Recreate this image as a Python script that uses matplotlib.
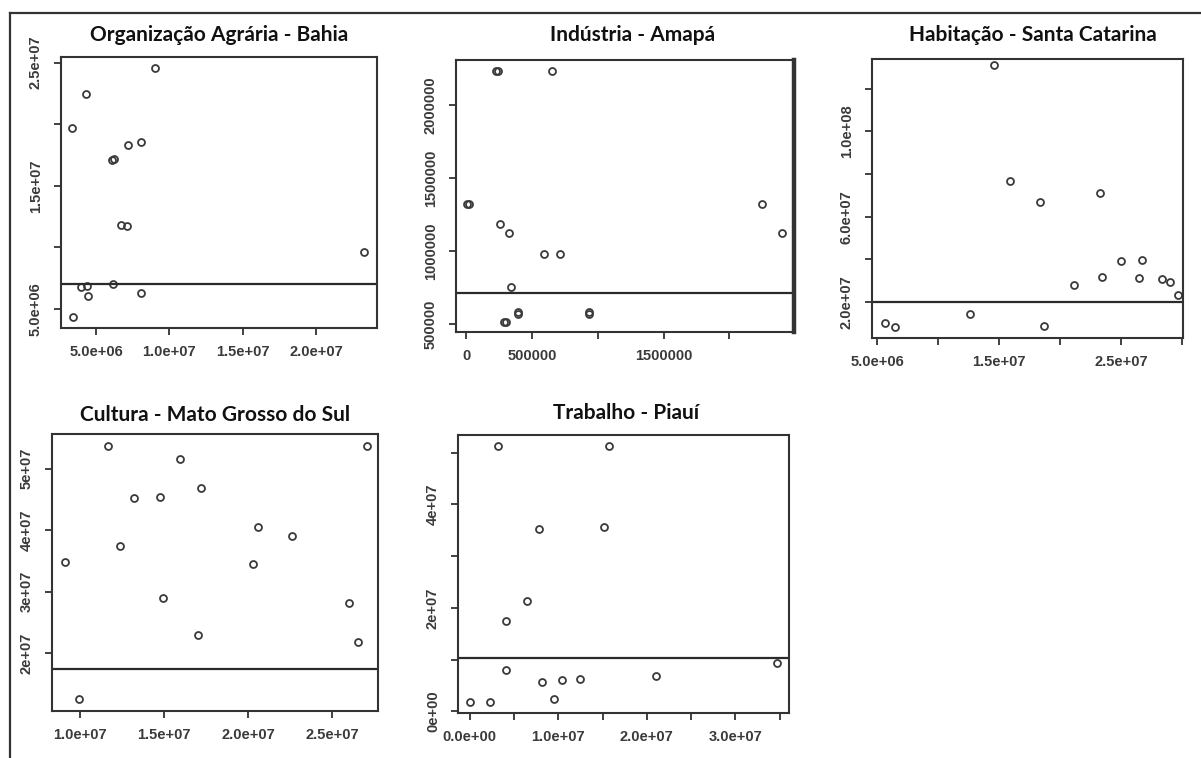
import matplotlib
matplotlib.use("Agg")
import matplotlib.pyplot as plt
from matplotlib.lines import Line2D

W, H = 1201, 758
DPI = 100

# ---- Data -------------------------------------------------------------
bahia_x = [3.34e6, 4.32e6, 9.05e6, 6.10e6, 6.25e6, 7.20e6, 8.05e6, 6.68e6, 7.09e6,
           2.327e7, 3.96e6, 4.41e6, 4.48e6, 6.14e6, 8.05e6, 3.41e6]
bahia_y = [1.969e7, 2.245e7, 2.46e7, 1.71e7, 1.715e7, 1.833e7, 1.855e7, 1.183e7, 1.175e7,
           9.6e6, 6.76e6, 6.87e6, 6.06e6, 7.0e6, 6.33e6, 4.37e6]
bahia_line = 7.0e6

amapa_x = [2.25e5, 2.40e5, 6.54e5, 5e3, 2.0e4, 2.58e5, 3.26e5, 5.91e5, 7.17e5,
           2.25e6, 2.40e6, 3.41e5, 3.96e5, 3.96e5, 9.34e5, 9.34e5, 2.85e5, 3.05e5]
amapa_y = [2.235e6, 2.235e6, 2.235e6, 1.32e6, 1.32e6, 1.188e6, 1.123e6, 9.77e5, 9.77e5,
           1.32e6, 1.123e6, 7.51e5, 5.65e5, 5.82e5, 5.65e5, 5.82e5, 5.16e5, 5.16e5]
amapa_line = 7.14e5

sc_x = [1.461e7, 1.589e7, 1.840e7, 2.333e7, 2.50e7, 2.67e7, 2.346e7, 2.645e7, 2.112e7,
        2.836e7, 2.902e7, 2.97e7, 5.68e6, 6.5e6, 1.262e7, 1.869e7]
sc_y = [1.309e8, 7.69e7, 6.70e7, 7.12e7, 3.92e7, 3.97e7, 3.19e7, 3.14e7, 2.81e7,
        3.08e7, 2.92e7, 2.31e7, 1.02e7, 8.3e6, 1.44e7, 8.6e6]
sc_line = 2.0e7

ms_x = [9.07e6, 1.164e7, 1.317e7, 1.238e7, 1.477e7, 1.596e7, 1.718e7, 1.491e7, 1.703e7,
        2.056e7, 2.03e7, 2.261e7, 2.597e7, 2.652e7, 2.707e7, 9.9e6]
ms_y = [3.48e7, 5.375e7, 4.53e7, 3.74e7, 4.54e7, 5.16e7, 4.68e7, 2.90e7, 2.29e7,
        4.06e7, 3.45e7, 3.90e7, 2.81e7, 2.18e7, 5.37e7, 1.25e7]
ms_line = 1.74e7

pi_x = [3.19e6, 1.572e7, 7.82e6, 1.515e7, 6.51e6, 4.06e6, 4.14e6, 8.2e6, 1.043e7,
        1.242e7, 9.48e6, 0.0, 2.26e6, 2.10e7, 3.47e7]
pi_y = [5.12e7, 5.12e7, 3.52e7, 3.57e7, 2.13e7, 1.75e7, 8.1e6, 5.7e6, 6.0e6,
        6.3e6, 2.5e6, 1.8e6, 1.8e6, 6.9e6, 9.4e6]
pi_line = 1.03e7

titles = ["Organização Agrária - Bahia", "Indústria - Amapá", "Habitação - Santa Catarina",
          "Cultura - Mato Grosso do Sul", "Trabalho - Piauí"]

bahia_xticks = [5e6, 1e7, 1.5e7, 2e7]
bahia_xlabels = ["5.0e+06", "1.0e+07", "1.5e+07", "2.0e+07"]
bahia_yticks = [5e6, 1e7, 1.5e7, 2e7, 2.5e7]
bahia_ylabels = ["5.0e+06", "", "1.5e+07", "", "2.5e+07"]

amapa_xticks = [0, 5e5, 1e6, 1.5e6, 2e6]
amapa_xlabels = ["0", "500000", "", "1500000", ""]
amapa_yticks = [5e5, 1e6, 1.5e6, 2e6]
amapa_ylabels = ["500000", "1000000", "1500000", "2000000"]

sc_xticks = [5e6, 1e7, 1.5e7, 2e7, 2.5e7, 3e7]
sc_xlabels = ["5.0e+06", "", "1.5e+07", "", "2.5e+07", ""]
sc_yticks = [2e7, 4e7, 6e7, 8e7, 1e8, 1.2e8]
sc_ylabels = ["2.0e+07", "", "6.0e+07", "", "1.0e+08", ""]

ms_xticks = [1e7, 1.5e7, 2e7, 2.5e7]
ms_xlabels = ["1.0e+07", "1.5e+07", "2.0e+07", "2.5e+07"]
ms_yticks = [2e7, 3e7, 4e7, 5e7]
ms_ylabels = ["2e+07", "3e+07", "4e+07", "5e+07"]

pi_xticks = [0, 5e6, 1e7, 1.5e7, 2e7, 2.5e7, 3e7, 3.5e7]
pi_xlabels = ["0.0e+00", "", "1.0e+07", "", "2.0e+07", "", "3.0e+07", ""]
pi_yticks = [0, 1e7, 2e7, 3e7, 4e7, 5e7]
pi_ylabels = ["0e+00", "", "2e+07", "", "4e+07", ""]

panels = [
    dict(x=bahia_x, y=bahia_y, line=bahia_line, xt=bahia_xticks, xl=bahia_xlabels,
         yt=bahia_yticks, yl=bahia_ylabels, xlim=(2.61e6, 2.416e7), ylim=(3.46e6, 2.546e7),
         box=(61, 377, 57, 328), title_xy=(219, 35)),
    dict(x=amapa_x, y=amapa_y, line=amapa_line, xt=amapa_xticks, xl=amapa_xlabels,
         yt=amapa_yticks, yl=amapa_ylabels, xlim=(-7.6e4, 2.49e6), ylim=(4.45e5, 2.31e6),
         box=(456, 794, 60, 332), title_xy=(633, 35)),
    dict(x=sc_x, y=sc_y, line=sc_line, xt=sc_xticks, xl=sc_xlabels,
         yt=sc_yticks, yl=sc_ylabels, xlim=(4.59e6, 3.01e7), ylim=(3.1e6, 1.339e8),
         box=(872, 1183, 59, 338), title_xy=(1033, 35)),
    dict(x=ms_x, y=ms_y, line=ms_line, xt=ms_xticks, xl=ms_xlabels,
         yt=ms_yticks, yl=ms_ylabels, xlim=(8.32e6, 2.771e7), ylim=(1.06e7, 5.565e7),
         box=(52, 378, 434, 711), title_xy=(215, 415)),
    dict(x=pi_x, y=pi_y, line=pi_line, xt=pi_xticks, xl=pi_xlabels,
         yt=pi_yticks, yl=pi_ylabels, xlim=(-1.32e6, 3.605e7), ylim=(-3e5, 5.34e7),
         box=(458, 789, 435, 713), title_xy=(626, 413)),
]

fig = plt.figure(figsize=(W / DPI, H / DPI), dpi=DPI)
fig.patch.set_facecolor("white")

# page frame (top and left edges)
fig.add_artist(Line2D([10 / W, 1.0], [1 - 13 / H, 1 - 13 / H], color="#333333", lw=1.6,
                      transform=fig.transFigure))
fig.add_artist(Line2D([10 / W, 10 / W], [0.0, 1 - 13 / H], color="#333333", lw=1.6,
                      transform=fig.transFigure))

tick_font = dict(family="Liberation Sans", size=10.5, weight="bold", color="#3a3a3a")

for i, (p, title) in enumerate(zip(panels, titles)):
    l, r, t, b = p["box"]
    ax = fig.add_axes([l / W, 1 - b / H, (r - l) / W, (b - t) / H])
    ax.plot(p["x"], p["y"], linestyle="none", marker="o", markersize=5.0,
            markerfacecolor="none", markeredgecolor="#3a3a3a", markeredgewidth=1.3)
    ax.axhline(p["line"], color="#2a2a2a", lw=1.6)
    ax.set_xlim(*p["xlim"])
    ax.set_ylim(*p["ylim"])
    ax.set_xticks(p["xt"])
    ax.set_xticklabels(p["xl"], **tick_font)
    ax.set_yticks(p["yt"])
    ax.set_yticklabels(p["yl"], rotation=90, va="center", **tick_font)
    ax.tick_params(axis="both", direction="out", length=5, width=1.3, color="#333333")
    ax.tick_params(axis="x", pad=7)
    ax.tick_params(axis="y", pad=8)
    for s in ax.spines.values():
        s.set_color("#333333")
        s.set_linewidth(1.5)
    if i == 1:
        ax.spines["right"].set_linewidth(3.2)
    fig.text(p["title_xy"][0] / W, 1 - p["title_xy"][1] / H, title, ha="center",
             va="center", family="Lato", weight="bold", size=15, color="#111111")

fig.savefig("out.png", dpi=DPI)
